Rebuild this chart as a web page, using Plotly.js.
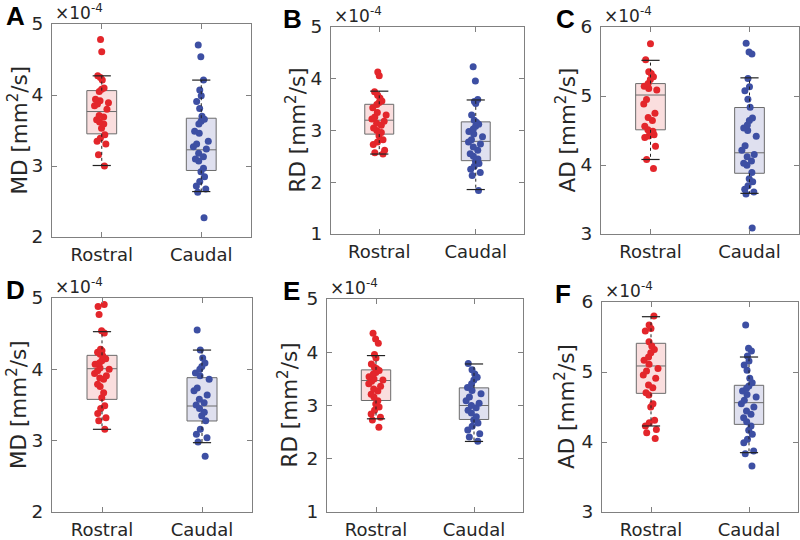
<!DOCTYPE html>
<html>
<head>
<meta charset="utf-8">
<script src="https://cdn.plot.ly/plotly-3.0.1.min.js"></script>
<style>html,body{margin:0;padding:0;background:#fff}#chart{width:800px;height:540px}</style>
</head>
<body>
<div id="chart"></div>
<script>
// Values in units of 1e-4 mm^2/s
const categories = ["Rostral", "Caudal"];

// Panel A (MD, top row)
const mdTopRostral = [4.78, 4.61, 4.27, 4.245, 4.21, 4.10, 4.08, 4.05, 3.94, 3.92, 3.89, 3.875, 3.85, 3.80, 3.71, 3.69, 3.65, 3.62, 3.59, 3.53, 3.44, 3.39, 3.35, 3.31, 3.16, 3.00];
const mdTopCaudal = [4.705, 4.54, 4.21, 4.07, 3.99, 3.91, 3.81, 3.70, 3.66, 3.63, 3.59, 3.49, 3.46, 3.35, 3.31, 3.27, 3.24, 3.18, 3.13, 3.10, 3.07, 2.97, 2.92, 2.85, 2.78, 2.72, 2.675, 2.63, 2.27];
// Panel B (RD, top row)
const rdTopRostral = [4.13, 4.06, 3.75, 3.68, 3.63, 3.57, 3.54, 3.50, 3.44, 3.35, 3.30, 3.26, 3.22, 3.18, 3.14, 3.10, 3.05, 3.00, 2.96, 2.90, 2.82, 2.78, 2.73, 2.62, 2.57, 2.545];
const rdTopCaudal = [4.23, 3.955, 3.60, 3.56, 3.52, 3.30, 3.20, 3.16, 3.12, 3.08, 3.03, 2.98, 2.93, 2.88, 2.82, 2.78, 2.74, 2.68, 2.62, 2.55, 2.50, 2.45, 2.40, 2.36, 2.31, 2.25, 2.19, 2.13, 1.84];
// Panel C (AD, top row)
const adTopRostral = [5.756, 5.526, 5.35, 5.325, 5.28, 5.24, 5.18, 5.14, 5.11, 5.086, 4.95, 4.885, 4.75, 4.69, 4.645, 4.56, 4.51, 4.49, 4.47, 4.44, 4.42, 4.40, 4.27, 4.08, 3.95];
const adTopCaudal = [5.766, 5.636, 5.61, 5.254, 5.134, 5.077, 4.952, 4.837, 4.68, 4.646, 4.58, 4.536, 4.50, 4.416, 4.28, 4.215, 4.153, 4.12, 4.057, 4.024, 3.995, 3.89, 3.80, 3.756, 3.70, 3.65, 3.61, 3.58, 3.086];
// Panel D (MD, bottom row)
const mdBotRostral = [4.91, 4.88, 4.77, 4.54, 4.51, 4.28, 4.26, 4.24, 4.21, 4.19, 4.15, 4.12, 4.09, 4.07, 4.02, 4.00, 3.98, 3.94, 3.91, 3.88, 3.86, 3.79, 3.76, 3.67, 3.60, 3.49, 3.45, 3.38, 3.32, 3.28, 3.16];
const mdBotCaudal = [4.55, 4.27, 4.16, 4.09, 4.04, 4.00, 3.95, 3.91, 3.86, 3.74, 3.70, 3.64, 3.58, 3.53, 3.50, 3.45, 3.40, 3.35, 3.28, 3.16, 3.09, 3.04, 2.98, 2.78];
// Panel E (RD, bottom row)
const rdBotRostral = [4.356, 4.25, 4.17, 3.956, 3.89, 3.78, 3.72, 3.69, 3.656, 3.62, 3.59, 3.54, 3.50, 3.48, 3.456, 3.41, 3.36, 3.31, 3.27, 3.21, 3.16, 3.09, 3.03, 2.97, 2.91, 2.84, 2.78, 2.73, 2.59];
const rdBotCaudal = [3.79, 3.67, 3.59, 3.53, 3.48, 3.41, 3.34, 3.28, 3.22, 3.16, 3.09, 3.04, 3.00, 2.96, 2.91, 2.86, 2.79, 2.73, 2.67, 2.61, 2.54, 2.47, 2.41, 2.33];
// Panel F (AD, bottom row)
const adBotRostral = [5.80, 5.67, 5.62, 5.586, 5.433, 5.37, 5.32, 5.276, 5.214, 5.167, 5.11, 5.05, 5.014, 4.957, 4.91, 4.814, 4.776, 4.705, 4.67, 4.548, 4.50, 4.31, 4.276, 4.23, 4.18, 4.133, 4.05];
const adBotCaudal = [5.67, 5.338, 5.30, 5.23, 5.157, 5.10, 5.024, 4.91, 4.848, 4.80, 4.767, 4.73, 4.68, 4.643, 4.595, 4.548, 4.50, 4.443, 4.395, 4.348, 4.29, 4.23, 4.167, 4.11, 4.038, 3.99, 3.87, 3.833, 3.657];

// Box statistics: [lower whisker, q1, median, q3, upper whisker]
const statsA = [[3.007, 3.453, 3.767, 4.062, 4.27], [2.64, 2.937, 3.228, 3.673, 4.21]];
const statsB = [[2.545, 2.93, 3.199, 3.506, 3.76], [1.859, 2.417, 2.79, 3.167, 3.59]];
const statsC = [[4.08, 4.51, 5.014, 5.18, 5.517], [3.589, 3.88, 4.177, 4.833, 5.263]];
const statsD = [[3.159, 3.579, 4.009, 4.196, 4.528], [2.972, 3.276, 3.486, 3.883, 4.27]];
const statsE = [[2.75, 3.094, 3.469, 3.669, 3.9375], [2.325, 2.7375, 3.0, 3.331, 3.78]];
const statsF = [[4.229, 4.695, 5.086, 5.41, 5.79], [3.848, 4.252, 4.562, 4.81, 5.214]];

const yTitles = ["MD [mm<sup>2</sup>/s]", "RD [mm<sup>2</sup>/s]", "AD [mm<sup>2</sup>/s]"];
const yRanges = [[2, 5], [1, 5], [3, 6]];
const letters = ["A", "B", "C", "D", "E", "F"];

const panels = [
  {rostral: mdTopRostral, caudal: mdTopCaudal, stats: statsA, kind: 0, px: [52, 251], py: [24, 237], lx: 4, titleX: 17},
  {rostral: rdTopRostral, caudal: rdTopCaudal, stats: statsB, kind: 1, px: [331, 524], py: [27, 234], lx: 281, titleX: 295},
  {rostral: adTopRostral, caudal: adTopCaudal, stats: statsC, kind: 2, px: [601, 799], py: [27, 234], lx: 554, titleX: 565},
  {rostral: mdBotRostral, caudal: mdBotCaudal, stats: statsD, kind: 0, px: [52, 252], py: [298, 512], lx: 4, titleX: 17},
  {rostral: rdBotRostral, caudal: rdBotCaudal, stats: statsE, kind: 1, px: [327, 523], py: [299, 512], lx: 281, titleX: 287},
  {rostral: adBotRostral, caudal: adBotCaudal, stats: statsF, kind: 2, px: [602, 798], py: [302, 512], lx: 553, titleX: 565}
];

const W = 800, H = 540;
const FONT = "DejaVu Sans, sans-serif";
const TXT = "#262626";
const AXC = "#808080";
const pointColors = ["#e3262b", "#3d4fa3"];
const fillColors = ["#fadede", "#dfe0ef"];

const traces = [];
const layout = {
  width: W, height: H,
  margin: {l: 0, r: 0, t: 0, b: 0},
  paper_bgcolor: "#fff", plot_bgcolor: "#fff",
  showlegend: false,
  boxmode: "overlay",
  font: {family: FONT, color: TXT, size: 18},
  annotations: []
};

panels.forEach((p, i) => {
  const n = i + 1;
  const xa = "x" + (n === 1 ? "" : n), ya = "y" + (n === 1 ? "" : n);
  const xk = "xaxis" + (n === 1 ? "" : n), yk = "yaxis" + (n === 1 ? "" : n);
  const groups = [p.rostral, p.caudal];

  groups.forEach((vals, g) => {
    const s = p.stats[g];
    const cat = categories[g];
    // box with precomputed statistics (whiskers drawn separately as dashed lines)
    traces.push({
      type: "box", xaxis: xa, yaxis: ya,
      x: [cat], q1: [s[1]], median: [s[2]], q3: [s[3]],
      lowerfence: [s[1]], upperfence: [s[3]],
      width: 0.3, whiskerwidth: 0,
      fillcolor: fillColors[g],
      line: {color: "#6b6b6b", width: 1},
      boxpoints: false, hoverinfo: "skip"
    });
    // dashed whiskers
    traces.push({
      type: "scatter", mode: "lines", xaxis: xa, yaxis: ya,
      x: [cat, cat, null, cat, cat],
      y: [s[3], s[4], null, s[1], s[0]],
      line: {color: "#222", width: 1, dash: "3px,3px"},
      hoverinfo: "skip"
    });
    // whisker caps
    traces.push({
      type: "scatter", mode: "markers", xaxis: xa, yaxis: ya,
      x: [cat, cat], y: [s[0], s[4]],
      marker: {symbol: "line-ew", size: 13, line: {color: "#222", width: 1.2}},
      hoverinfo: "skip"
    });
    // jittered sample points (transparent box only carries the points)
    traces.push({
      type: "box", xaxis: xa, yaxis: ya,
      x: vals.map(() => cat), y: vals,
      width: 0.3, boxpoints: "all", jitter: 0.55, pointpos: 0,
      fillcolor: "rgba(0,0,0,0)", line: {width: 0, color: "rgba(0,0,0,0)"},
      marker: {color: pointColors[g], size: 7, opacity: 1},
      hoverinfo: "y"
    });
  });

  const yr = yRanges[p.kind];
  const ticks = [];
  for (let t = yr[0]; t <= yr[1]; t++) ticks.push(t);

  layout[xk] = {
    domain: [p.px[0] / W, p.px[1] / W],
    anchor: ya,
    type: "category",
    categoryorder: "array", categoryarray: categories,
    range: [-0.5, 1.5],
    showline: true, linecolor: AXC, linewidth: 1, mirror: "ticks",
    ticks: "inside", ticklen: 5, tickcolor: AXC,
    showgrid: false, zeroline: false,
    tickfont: {family: FONT, size: 18, color: TXT},
    ticklabelstandoff: 1,
    fixedrange: true
  };
  layout[yk] = {
    domain: [1 - p.py[1] / H, 1 - p.py[0] / H],
    anchor: xa,
    range: yr,
    tickvals: ticks,
    ticktext: ticks.map(String),
    showline: true, linecolor: AXC, linewidth: 1, mirror: "ticks",
    ticks: "inside", ticklen: 5, tickcolor: AXC,
    showgrid: false, zeroline: false,
    tickfont: {family: FONT, size: 18.5, color: TXT},
    ticklabelstandoff: 4,
    fixedrange: true
  };

  // y-axis title
  layout.annotations.push({
    xref: "paper", yref: "paper",
    x: p.titleX / W, y: 1 - ((p.py[0] + p.py[1]) / 2) / H,
    xanchor: "center", yanchor: "middle",
    text: yTitles[p.kind], textangle: -90, showarrow: false,
    font: {family: FONT, size: 21.5, color: TXT}
  });
  // exponent label
  layout.annotations.push({
    xref: "paper", yref: "paper",
    x: (p.px[0] + 1) / W, y: 1 - (p.py[0] + 1) / H,
    xanchor: "left", yanchor: "bottom",
    text: "×10<sup>-4</sup>", showarrow: false,
    font: {family: FONT, size: 17, color: TXT}
  });
  // panel letter
  layout.annotations.push({
    xref: "paper", yref: "paper",
    x: p.lx / W, y: 1 - (p.py[0] - 8) / H,
    xanchor: "left", yanchor: "middle",
    text: "<b>" + letters[i] + "</b>", showarrow: false,
    font: {family: "Liberation Sans, Arial, sans-serif", size: 26, color: "#000"}
  });
});

Plotly.newPlot("chart", traces, layout, {displayModeBar: false, staticPlot: true});
</script>
</body>
</html>
